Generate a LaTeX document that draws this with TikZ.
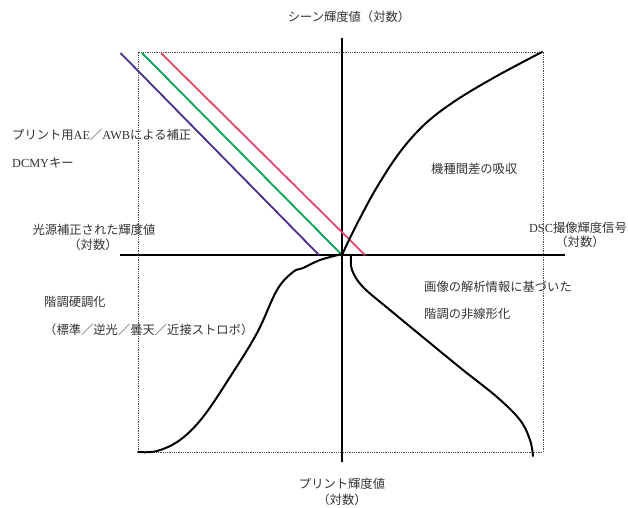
\documentclass[tikz,border=0pt]{standalone}
\usepackage{fontspec}
\setmainfont{Noto Sans CJK JP}
\newfontfamily\latf{Liberation Serif}
\newcommand\lt[1]{{\latf #1}}
\definecolor{lblue}{RGB}{75,45,145}
\definecolor{lgreen}{RGB}{0,165,75}
\definecolor{lred}{RGB}{230,70,105}
\tikzset{
  lbl/.style={inner sep=0pt, font=\fontsize{12.3}{14}\selectfont, text=black!80},
  axis/.style={line width=2pt, black},
  frame/.style={densely dotted, line width=0.8pt, black!70},
  curve/.style={line width=2pt, black, line cap=round},
  cline/.style={line width=1.8pt}
}
\begin{document}
\begin{tikzpicture}[x=1pt,y=-1pt]
\useasboundingbox (0,0) rectangle (628,507);
% frame
\draw[frame] (138,452) rectangle (543,52);
% axes
\coordinate (vt) at (342,38);
\coordinate (vb) at (342,462);
\coordinate (hl) at (120,255);
\coordinate (hr) at (565,255);
\draw[axis] (vt) -- (vb);
\draw[axis] (hl) -- (hr);
% colored lines
\coordinate (b1) at (120.5,53); \coordinate (b2) at (319,255);
\coordinate (g1) at (142,53);   \coordinate (g2) at (342,255);
\coordinate (r1) at (161,53);   \coordinate (r2) at (365,255);
\draw[cline, lblue] (b1) -- (b2);
\draw[cline, lgreen] (g1) -- (g2);
\draw[cline, lred] (r1) -- (r2);
% curves
\draw[curve] plot[smooth, tension=0.6] coordinates {(342,255) (349,240) (359,220) (377,187) (400,152) (425,124) (455,101) (495,77) (542,52)};
\draw[curve] plot[smooth, tension=0.6] coordinates {(138,452) (157,451) (180,440) (203,417) (230,377) (257,333) (277,290) (293,272) (303,268) (320,260) (342,254)};
\draw[curve] plot[smooth, tension=0.6] coordinates {(351,256) (352,270) (363,287) (390,310) (430,343) (463,370) (497,397) (520,420) (530,440) (533,456)};
% labels
\node[lbl] (t1) at (349,17) {シーン輝度値（対数）};
\node[lbl, anchor=west] (t2) at (12,135) {プリント用\lt{AE}／\lt{AWB}による補正};
\node[lbl, anchor=west] (t3) at (12,163) {\lt{DCMY}キー};
\node[lbl, anchor=west] (t4) at (431,169) {機種間差の吸収};
\node[lbl] (t5) at (94,230) {光源補正された輝度値};
\node[lbl] (t6) at (93,245) {（対数）};
\node[lbl, anchor=east] (t7) at (627,228) {\lt{DSC}撮像輝度信号};
\node[lbl] (t8) at (580,242) {（対数）};
\node[lbl, anchor=west] (t9) at (424,287) {画像の解析情報に基づいた};
\node[lbl, anchor=west] (t10) at (424,314) {階調の非線形化};
\node[lbl, anchor=west] (t11) at (44,302) {階調硬調化};
\node[lbl, anchor=west] (t12) at (44,330) {（標準／逆光／曇天／近接ストロボ）};
\node[lbl] (t13) at (342,484) {プリント輝度値};
\node[lbl] (t14) at (342,500) {（対数）};
\end{tikzpicture}
\end{document}
